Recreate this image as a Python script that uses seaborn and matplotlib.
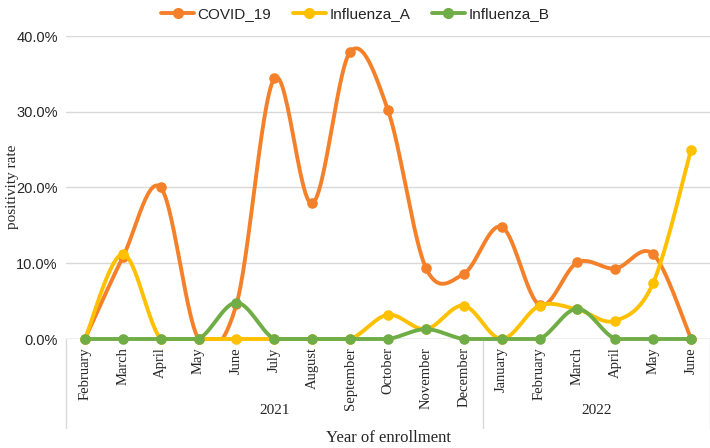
import numpy as np
import pandas as pd
import matplotlib
matplotlib.use("Agg")
import matplotlib.pyplot as plt
from matplotlib.lines import Line2D
from matplotlib.ticker import PercentFormatter
import matplotlib.transforms as mtransforms
import seaborn as sns

months = ["February", "March", "April", "May", "June", "July", "August",
          "September", "October", "November", "December",
          "January", "February", "March", "April", "May", "June"]
years = ["2021"] * 11 + ["2022"] * 6
covid_19 = [0.0, 10.8, 20.0, 0.0, 4.6, 34.4, 17.9, 37.9, 30.2, 9.4, 8.6,
            14.8, 4.5, 10.1, 9.3, 11.2, 0.0]
influenza_a = [0.0, 11.2, 0.0, 0.0, 0.0, 0.0, 0.0, 0.0, 3.2, 1.3, 4.4,
               0.0, 4.4, 3.9, 2.4, 7.4, 25.0]
influenza_b = [0.0, 0.0, 0.0, 0.0, 4.8, 0.0, 0.0, 0.0, 0.0, 1.3, 0.0,
               0.0, 0.0, 4.0, 0.0, 0.0, 0.0]
series_names = ["COVID_19", "Influenza_A", "Influenza_B"]
colors = ["#F4812A", "#FFC000", "#70AD47"]

sns.set_theme(style="white")
plt.rcParams['font.family'] = ['Liberation Sans', 'DejaVu Sans']

rows = []
for name, vals in zip(series_names, [covid_19, influenza_a, influenza_b]):
    for i, v in enumerate(vals):
        rows.append({"idx": i, "month": months[i], "year": years[i],
                     "series": name, "rate": v / 100.0})
df = pd.DataFrame(rows)


def smooth(x, y, n=30):
    # Bezier smoothing through the points (Excel-like smoothed line)
    x = np.asarray(x, float)
    y = np.asarray(y, float)
    px, py = [], []
    m = len(x)
    for i in range(m - 1):
        x0, y0 = (x[i - 1], y[i - 1]) if i > 0 else (x[i], y[i])
        x1, y1 = x[i], y[i]
        x2, y2 = x[i + 1], y[i + 1]
        x3, y3 = (x[i + 2], y[i + 2]) if i + 2 < m else (x[i + 1], y[i + 1])
        c1x, c1y = x1 + (x2 - x0) / 6, y1 + (y2 - y0) / 6
        c2x, c2y = x2 - (x3 - x1) / 6, y2 - (y3 - y1) / 6
        t = np.linspace(0, 1, n)
        bx = (1 - t) ** 3 * x1 + 3 * (1 - t) ** 2 * t * c1x + 3 * (1 - t) * t ** 2 * c2x + t ** 3 * x2
        by = (1 - t) ** 3 * y1 + 3 * (1 - t) ** 2 * t * c1y + 3 * (1 - t) * t ** 2 * c2y + t ** 3 * y2
        px.append(bx)
        py.append(by)
    # the plot area floor hides anything under zero
    return np.concatenate(px), np.clip(np.concatenate(py), 0, None)


fig = plt.figure(figsize=(7.1, 4.48), dpi=100)
ax = fig.add_axes([66 / 710, 1 - 339 / 448, 644 / 710, 303 / 448])

for k, (name, col) in enumerate(zip(series_names, colors)):
    sub = df[df["series"] == name]
    sx, sy = smooth(sub["idx"], sub["rate"])
    ax.plot(sx, sy, color=col, lw=2.8, clip_on=False, zorder=3 + k,
            solid_capstyle="round", solid_joinstyle="round")
    sns.scatterplot(data=sub, x="idx", y="rate", color=col, s=58,
                    edgecolor=col, linewidth=0, ax=ax, zorder=3 + k,
                    clip_on=False, legend=False)

ax.set_xlim(-0.5, 16.5)
ax.set_ylim(0, 0.40)
ax.set_yticks([0, 0.1, 0.2, 0.3, 0.4])
ax.yaxis.set_major_formatter(PercentFormatter(1.0, decimals=1))
ax.grid(axis="y", color="#D9D9D9", lw=1)
ax.grid(axis="x", visible=False)
for s in ["top", "right", "left", "bottom"]:
    ax.spines[s].set_visible(False)
ax.axhline(0, color="#D0D0D0", lw=1, zorder=1)

ax.set_xticks(range(len(months)))
ax.set_xticklabels(months, rotation=90, family=["Liberation Serif"],
                   fontsize=10.5, va="top")
ax.tick_params(axis="x", length=0, pad=6)
ax.tick_params(axis="y", length=0, pad=6, labelsize=10.5)
for lbl in ax.get_yticklabels():
    lbl.set_fontfamily(["Liberation Sans"])
ax.set_xlabel("")
ax.set_ylabel("")

trans = mtransforms.blended_transform_factory(ax.transData, ax.transAxes)
for xv in [-0.5, 10.5, 16.5]:
    ax.plot([xv, xv], [0, -0.295], transform=trans, color="#D9D9D9", lw=1,
            clip_on=False)
ax.text(5, -0.237, "2021", transform=trans, ha="center", va="center",
        family=["Liberation Serif"], fontsize=11)
ax.text(13.5, -0.237, "2022", transform=trans, ha="center", va="center",
        family=["Liberation Serif"], fontsize=11)
ax.text(0.5, -0.328, "Year of enrollment", transform=ax.transAxes,
        ha="center", va="center", family=["Liberation Serif"], fontsize=12)
fig.text(13 / 710, 1 - 187 / 448, "positivity rate", rotation=90,
         ha="center", va="center", family=["Liberation Serif"], fontsize=11)

handles = [Line2D([0], [0], color=c, lw=2.8, marker="o", markersize=7)
           for c in colors]
fig.legend(handles, series_names, loc="center", bbox_to_anchor=(0.5, 1 - 14 / 448),
           ncol=3, frameon=False, fontsize=11, handlelength=2.2,
           handletextpad=0.2, columnspacing=1.4)

fig.savefig("out.png", dpi=100)
